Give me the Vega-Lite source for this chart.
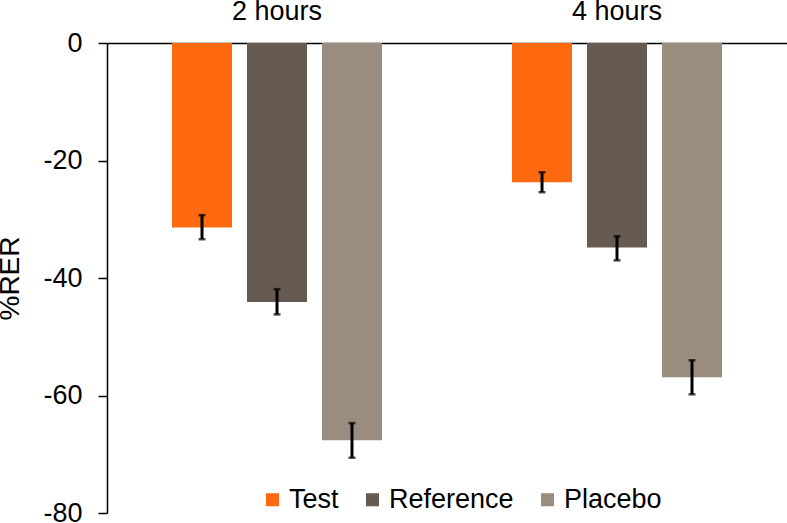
{
  "$schema": "https://vega.github.io/schema/vega-lite/v6.json",
  "autosize": "none",
  "width": 680,
  "height": 470,
  "padding": {"left": 107, "top": 43, "right": 0, "bottom": 10},
  "background": "white",
  "config": {
    "font": "Liberation Sans",
    "view": {"stroke": null},
    "axis": {"labelFont": "Liberation Sans", "titleFont": "Liberation Sans", "labelColor": "black", "titleColor": "black"}
  },
  "data": {
    "values": [
      {"time": "2 hours", "group": "Test", "value": -31.4, "lo": -33.4, "hi": -29.3},
      {"time": "2 hours", "group": "Reference", "value": -44.1, "lo": -46.2, "hi": -41.9},
      {"time": "2 hours", "group": "Placebo", "value": -67.6, "lo": -70.6, "hi": -64.7},
      {"time": "4 hours", "group": "Test", "value": -23.7, "lo": -25.4, "hi": -22.0},
      {"time": "4 hours", "group": "Reference", "value": -34.8, "lo": -37.0, "hi": -32.9},
      {"time": "4 hours", "group": "Placebo", "value": -56.9, "lo": -59.8, "hi": -54.0}
    ]
  },
  "encoding": {
    "x": {
      "field": "time", "type": "nominal",
      "scale": {"paddingInner": 0, "paddingOuter": 0},
      "axis": {"orient": "top", "title": null, "labelAngle": 0, "labelFontSize": 27, "ticks": false, "labelPadding": 18, "domainColor": "black", "domainWidth": 1.5}
    },
    "xOffset": {
      "field": "group", "type": "nominal", "sort": ["Test", "Reference", "Placebo"],
      "scale": {"paddingInner": 0.2, "paddingOuter": 0.867}
    }
  },
  "layer": [
    {
      "mark": {"type": "bar"},
      "encoding": {
        "y": {
          "field": "value", "type": "quantitative",
          "scale": {"domain": [-80, 0], "nice": false, "zero": false},
          "axis": {"title": "%RER", "titleFontSize": 28, "titleFontWeight": "normal", "titlePadding": 18, "labelFontSize": 27, "values": [0, -20, -40, -60, -80], "labelExpr": "toString(datum.value)", "grid": false, "tickSize": 9, "tickColor": "black", "tickWidth": 1.5, "domainColor": "black", "domainWidth": 1.5, "labelPadding": 16}
        },
        "y2": {"datum": 0},
        "color": {
          "field": "group", "type": "nominal", "sort": ["Test", "Reference", "Placebo"],
          "scale": {"domain": ["Test", "Reference", "Placebo"], "range": ["#FF6A10", "#655B52", "#9A8C7F"]},
          "legend": {
            "title": null, "orient": "none", "direction": "horizontal",
            "legendX": 152, "legendY": 443,
            "symbolType": "square", "symbolSize": 170, "symbolStrokeWidth": 0,
            "labelFontSize": 27, "labelOffset": 3, "columnPadding": 20,
            "labelColor": "black", "labelFont": "Liberation Sans"
          }
        }
      }
    },
    {
      "mark": {"type": "errorbar", "ticks": {"size": 7, "thickness": 2.5, "color": "black"}, "rule": {"strokeWidth": 3, "color": "black"}, "color": "black"},
      "encoding": {
        "y": {"field": "lo", "type": "quantitative", "title": "%RER"},
        "y2": {"field": "hi"}
      }
    }
  ]
}
